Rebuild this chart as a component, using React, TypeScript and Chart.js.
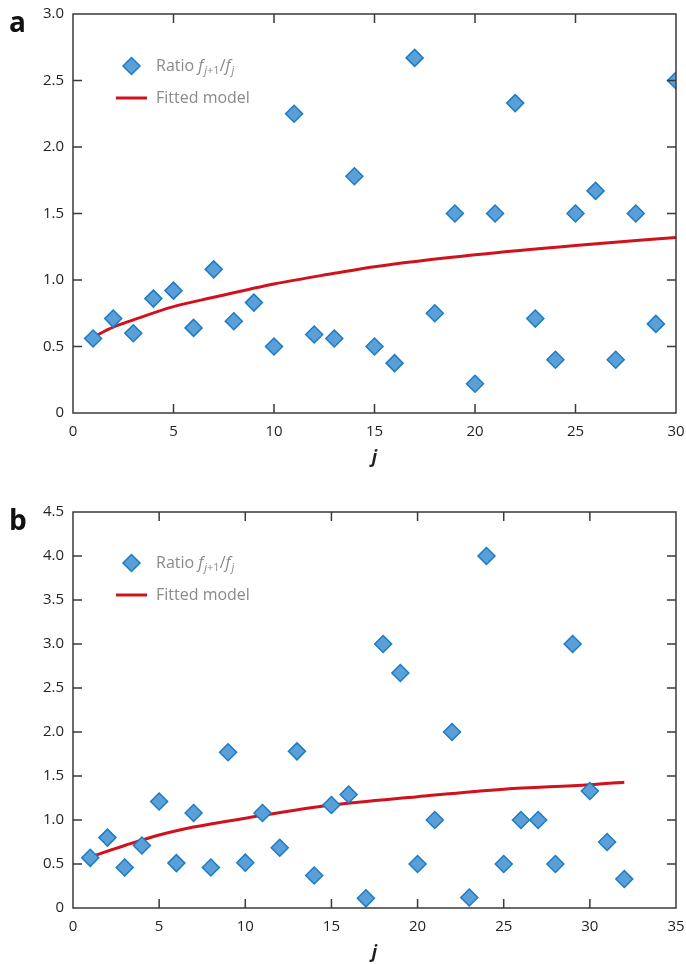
import React, { useEffect, useRef } from 'react';
import { Chart, registerables } from 'chart.js';

Chart.register(...registerables);

// ---------- Data ----------
const jA = [1, 2, 3, 4, 5, 6, 7, 8, 9, 10, 11, 12, 13, 14, 15, 16, 17, 18, 19, 20, 21, 22, 23, 24, 25, 26, 27, 28, 29, 30];
const ratioA = [0.56, 0.71, 0.6, 0.86, 0.92, 0.64, 1.08, 0.69, 0.83, 0.5, 2.25, 0.59, 0.56, 1.78, 0.5, 0.375, 2.67, 0.75, 1.5, 0.22, 1.5, 2.33, 0.71, 0.4, 1.5, 1.67, 0.4, 1.5, 0.67, 2.5];
const fitAj = [1, 2, 3, 5, 7, 10, 13, 15, 20, 25, 30];
const fitAv = [0.57, 0.645, 0.7, 0.8, 0.87, 0.97, 1.05, 1.1, 1.19, 1.26, 1.32];

const jB = [1, 2, 3, 4, 5, 6, 7, 8, 9, 10, 11, 12, 13, 14, 15, 16, 17, 18, 19, 20, 21, 22, 23, 24, 25, 26, 27, 28, 29, 30, 31, 32];
const ratioB = [0.57, 0.8, 0.46, 0.71, 1.21, 0.51, 1.08, 0.46, 1.77, 0.515, 1.08, 0.685, 1.78, 0.37, 1.17, 1.29, 0.11, 3.0, 2.67, 0.5, 1.0, 2.0, 0.12, 4.0, 0.5, 1.0, 1.0, 0.5, 3.0, 1.33, 0.75, 0.33];
const fitBj = [1, 3, 5, 7, 10, 15, 20, 25, 30, 32];
const fitBv = [0.58, 0.71, 0.83, 0.92, 1.02, 1.17, 1.265, 1.35, 1.4, 1.43];

const yTicksA = { min: 0, max: 3, step: 0.5 };
const yTicksB = { min: 0, max: 4.5, step: 0.5 };
const xTicksA = { min: 0, max: 30, step: 5 };
const xTicksB = { min: 0, max: 35, step: 5 };

const seriesLabels = ['Ratio', 'Fitted model'];
const xAxisTitle = 'j';

// ---------- Styles ----------
const FONT = '"Open Sans", "Noto Sans", sans-serif';
const MARKER_FILL = '#5b9fd9';
const MARKER_EDGE = '#1c7cc4';
const LINE_RED = '#d0121c';
const AXIS = '#3a3a3a';
const TEXT = '#231f20';
const LEGEND_GRAY = '#8a8a8a';

const frameTicks = {
  id: 'frameTicks',
  afterDatasetsDraw(chart: any) {
    const { ctx, chartArea: a, scales } = chart;
    const x = scales.x;
    const y = scales.y;
    const L = 9;
    ctx.save();
    ctx.strokeStyle = AXIS;
    ctx.lineWidth = 1.5;
    ctx.strokeRect(a.left, a.top, a.right - a.left, a.bottom - a.top);
    ctx.beginPath();
    x.ticks.forEach((t: any) => {
      const px = x.getPixelForValue(t.value);
      if (px <= a.left + 1 || px >= a.right - 1) return;
      ctx.moveTo(px, a.bottom);
      ctx.lineTo(px, a.bottom - L);
      ctx.moveTo(px, a.top);
      ctx.lineTo(px, a.top + L);
    });
    y.ticks.forEach((t: any) => {
      const py = y.getPixelForValue(t.value);
      if (py <= a.top + 1 || py >= a.bottom - 1) return;
      ctx.moveTo(a.left, py);
      ctx.lineTo(a.left + L, py);
      ctx.moveTo(a.right, py);
      ctx.lineTo(a.right - L, py);
    });
    ctx.stroke();
    ctx.restore();
  },
};

const customLegend = {
  id: 'customLegend',
  afterDraw(chart: any, _args: any, opts: any) {
    const { ctx, chartArea: a } = chart;
    const { y1, y2, letter, letterY, titleY } = opts;
    ctx.save();
    // panel letter
    ctx.fillStyle = '#111';
    ctx.font = `bold 28px ${FONT}`;
    ctx.textBaseline = 'alphabetic';
    ctx.textAlign = 'left';
    ctx.fillText(letter, 9, letterY);

    // x-axis title
    ctx.fillStyle = TEXT;
    ctx.font = `italic bold 18px ${FONT}`;
    ctx.textAlign = 'center';
    ctx.fillText(xAxisTitle, (a.left + a.right) / 2, titleY);
    ctx.textAlign = 'left';

    // diamond marker
    const cx = 131.5;
    const r = 8.5;
    ctx.beginPath();
    ctx.moveTo(cx - r, y1);
    ctx.lineTo(cx, y1 - r);
    ctx.lineTo(cx + r, y1);
    ctx.lineTo(cx, y1 + r);
    ctx.closePath();
    ctx.fillStyle = MARKER_FILL;
    ctx.fill();
    ctx.strokeStyle = MARKER_EDGE;
    ctx.lineWidth = 1.5;
    ctx.stroke();

    // line sample
    ctx.beginPath();
    ctx.moveTo(116, y2);
    ctx.lineTo(147, y2);
    ctx.strokeStyle = LINE_RED;
    ctx.lineWidth = 3;
    ctx.stroke();

    ctx.fillStyle = LEGEND_GRAY;
    ctx.textBaseline = 'middle';
    let x = 156;
    const base = `16px ${FONT}`;
    const ital = `italic 16px ${FONT}`;
    const subI = `italic 11px ${FONT}`;
    const subN = `11px ${FONT}`;
    const put = (s: string, font: string, dy = 0) => {
      ctx.font = font;
      ctx.fillText(s, x, y1 + dy);
      x += ctx.measureText(s).width;
    };
    put(seriesLabels[0] + ' ', base);
    put('f', ital);
    x += 1;
    put('j', subI, 5);
    put('+1', subN, 5);
    put('/', base);
    put('f', ital);
    x += 1;
    put('j', subI, 5);

    ctx.font = base;
    ctx.fillText(seriesLabels[1], 156, y2);
    ctx.restore();
  },
};

function makeConfig(
  j: number[],
  ratio: number[],
  fj: number[],
  fv: number[],
  xr: { min: number; max: number; step: number },
  yr: { min: number; max: number; step: number },
  pad: { top: number; xh: number },
  legend: { y1: number; y2: number; letter: string; letterY: number; titleY: number }
): any {
  return {
    type: 'scatter',
    data: {
      datasets: [
        {
          label: seriesLabels[0],
          data: j.map((v, i) => ({ x: v, y: ratio[i] })),
          pointStyle: 'rectRot',
          pointRadius: 8.5,
          pointBackgroundColor: MARKER_FILL,
          pointBorderColor: MARKER_EDGE,
          pointBorderWidth: 1.5,
          showLine: false,
          order: 0,
          clip: 0,
        },
        {
          label: seriesLabels[1],
          data: fj.map((v, i) => ({ x: v, y: fv[i] })),
          showLine: true,
          borderColor: LINE_RED,
          borderWidth: 3,
          pointRadius: 0,
          cubicInterpolationMode: 'monotone',
          order: 1,
          clip: 0,
        },
      ],
    },
    options: {
      responsive: false,
      animation: false,
      devicePixelRatio: 1,
      layout: { padding: { top: pad.top, right: 10, bottom: 0, left: 0 } },
      plugins: {
        legend: { display: false },
        tooltip: { enabled: false },
        customLegend: legend,
      },
      scales: {
        x: {
          type: 'linear',
          min: xr.min,
          max: xr.max,
          afterFit: (s: any) => {
            s.height = pad.xh;
            s.paddingLeft = 0;
            s.paddingRight = 0;
          },
          grid: { display: false, drawTicks: false },
          border: { display: false },
          ticks: {
            stepSize: xr.step,
            padding: 10,
            color: TEXT,
            font: { family: FONT, size: 15 },
          },
          title: { display: false },
        },
        y: {
          type: 'linear',
          min: yr.min,
          max: yr.max,
          afterFit: (s: any) => {
            s.width = 73;
            s.paddingTop = 0;
            s.paddingBottom = 0;
          },
          grid: { display: false, drawTicks: false },
          border: { display: false },
          ticks: {
            stepSize: yr.step,
            padding: 9,
            color: TEXT,
            font: { family: FONT, size: 15 },
            callback: (v: any) => (v === 0 ? '0' : Number(v).toFixed(1)),
          },
        },
      },
    },
    plugins: [frameTicks, customLegend],
  };
}

function Panel(props: { config: any }) {
  const ref = useRef<HTMLCanvasElement | null>(null);
  useEffect(() => {
    if (!ref.current) return;
    const chart = new Chart(ref.current, props.config);
    return () => chart.destroy();
  }, []);
  return <canvas ref={ref} width={686} height={482} style={{ display: 'block', width: 686, height: 482 }} />;
}

export default function App() {
  const cfgA = makeConfig(jA, ratioA, fitAj, fitAv, xTicksA, yTicksA, { top: 14, xh: 69 }, { y1: 66, y2: 98, letter: 'a', letterY: 32, titleY: 463 });
  const cfgB = makeConfig(jB, ratioB, fitBj, fitBv, xTicksB, yTicksB, { top: 30, xh: 56 }, { y1: 81, y2: 113, letter: 'b', letterY: 48, titleY: 476 });
  return (
    <div style={{ position: 'absolute', left: 0, top: 0, width: 686, height: 964, background: '#fff' }}>
      <Panel config={cfgA} />
      <Panel config={cfgB} />
    </div>
  );
}
